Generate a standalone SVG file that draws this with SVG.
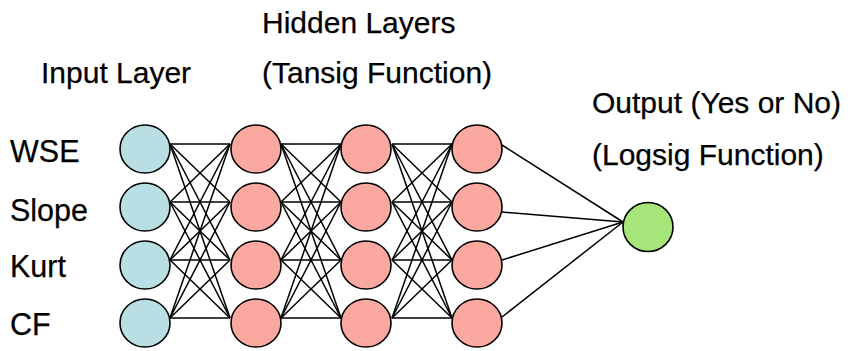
<svg xmlns="http://www.w3.org/2000/svg" width="853" height="351" viewBox="0 0 853 351">
<style>
text{font-family:"Liberation Sans",Arial,sans-serif;font-size:30px;fill:#000;stroke:#000;stroke-width:0.25}
.lb{font-size:30.5px}
.c line{stroke:#000;stroke-width:1.5}
.n{stroke:#000;stroke-width:1.6}
.in{fill:#B9DFE4}
.hd{fill:#FBA9A0}
.out{fill:#A5E57A}
</style>
<rect width="853" height="351" fill="#fff"/>
<g id="labels">
<text x="41" y="83">Input Layer</text>
<text x="262" y="33">Hidden Layers</text>
<text x="262" y="83">(Tansig Function)</text>
<text x="592" y="113">Output (Yes or No)</text>
<text x="592" y="165">(Logsig Function)</text>
<text class="lb" x="10" y="162">WSE</text>
<text class="lb" x="10" y="221">Slope</text>
<text class="lb" x="10" y="277">Kurt</text>
<text class="lb" x="10" y="335">CF</text>
</g>
<g id="connectors" class="c">
<line x1="170" y1="144" x2="230" y2="144"/><line x1="170" y1="144" x2="230" y2="202"/><line x1="170" y1="144" x2="230" y2="260"/><line x1="170" y1="144" x2="230" y2="318"/>
<line x1="170" y1="202" x2="230" y2="144"/><line x1="170" y1="202" x2="230" y2="202"/><line x1="170" y1="202" x2="230" y2="260"/><line x1="170" y1="202" x2="230" y2="318"/>
<line x1="170" y1="260" x2="230" y2="144"/><line x1="170" y1="260" x2="230" y2="202"/><line x1="170" y1="260" x2="230" y2="260"/><line x1="170" y1="260" x2="230" y2="318"/>
<line x1="170" y1="318" x2="230" y2="144"/><line x1="170" y1="318" x2="230" y2="202"/><line x1="170" y1="318" x2="230" y2="260"/><line x1="170" y1="318" x2="230" y2="318"/>
<line x1="281" y1="144" x2="341" y2="144"/><line x1="281" y1="144" x2="341" y2="202"/><line x1="281" y1="144" x2="341" y2="260"/><line x1="281" y1="144" x2="341" y2="318"/>
<line x1="281" y1="202" x2="341" y2="144"/><line x1="281" y1="202" x2="341" y2="202"/><line x1="281" y1="202" x2="341" y2="260"/><line x1="281" y1="202" x2="341" y2="318"/>
<line x1="281" y1="260" x2="341" y2="144"/><line x1="281" y1="260" x2="341" y2="202"/><line x1="281" y1="260" x2="341" y2="260"/><line x1="281" y1="260" x2="341" y2="318"/>
<line x1="281" y1="318" x2="341" y2="144"/><line x1="281" y1="318" x2="341" y2="202"/><line x1="281" y1="318" x2="341" y2="260"/><line x1="281" y1="318" x2="341" y2="318"/>
<line x1="392" y1="144" x2="452" y2="144"/><line x1="392" y1="144" x2="452" y2="202"/><line x1="392" y1="144" x2="452" y2="260"/><line x1="392" y1="144" x2="452" y2="318"/>
<line x1="392" y1="202" x2="452" y2="144"/><line x1="392" y1="202" x2="452" y2="202"/><line x1="392" y1="202" x2="452" y2="260"/><line x1="392" y1="202" x2="452" y2="318"/>
<line x1="392" y1="260" x2="452" y2="144"/><line x1="392" y1="260" x2="452" y2="202"/><line x1="392" y1="260" x2="452" y2="260"/><line x1="392" y1="260" x2="452" y2="318"/>
<line x1="392" y1="318" x2="452" y2="144"/><line x1="392" y1="318" x2="452" y2="202"/><line x1="392" y1="318" x2="452" y2="260"/><line x1="392" y1="318" x2="452" y2="318"/>
<line x1="502" y1="145" x2="623" y2="222"/><line x1="502" y1="212" x2="623" y2="222"/><line x1="502" y1="260" x2="623" y2="222"/><line x1="502" y1="317" x2="623" y2="222"/>
</g>
<g id="input-1"><ellipse class="n in" cx="145" cy="149" rx="25" ry="24"/></g>
<g id="input-2"><ellipse class="n in" cx="145" cy="207" rx="25" ry="24"/></g>
<g id="input-3"><ellipse class="n in" cx="145" cy="265" rx="25" ry="24"/></g>
<g id="input-4"><ellipse class="n in" cx="145" cy="323" rx="25" ry="24"/></g>
<g id="h1-1"><ellipse class="n hd" cx="256" cy="149" rx="25" ry="24"/></g>
<g id="h1-2"><ellipse class="n hd" cx="256" cy="207" rx="25" ry="24"/></g>
<g id="h1-3"><ellipse class="n hd" cx="256" cy="265" rx="25" ry="24"/></g>
<g id="h1-4"><ellipse class="n hd" cx="256" cy="323" rx="25" ry="24"/></g>
<g id="h2-1"><ellipse class="n hd" cx="366" cy="149" rx="25" ry="24"/></g>
<g id="h2-2"><ellipse class="n hd" cx="366" cy="207" rx="25" ry="24"/></g>
<g id="h2-3"><ellipse class="n hd" cx="366" cy="265" rx="25" ry="24"/></g>
<g id="h2-4"><ellipse class="n hd" cx="366" cy="323" rx="25" ry="24"/></g>
<g id="h3-1"><ellipse class="n hd" cx="477" cy="149" rx="25" ry="24"/></g>
<g id="h3-2"><ellipse class="n hd" cx="477" cy="207" rx="25" ry="24"/></g>
<g id="h3-3"><ellipse class="n hd" cx="477" cy="265" rx="25" ry="24"/></g>
<g id="h3-4"><ellipse class="n hd" cx="477" cy="323" rx="25" ry="24"/></g>
<g id="output"><ellipse class="n out" cx="648" cy="227" rx="25" ry="24.5"/></g>
</svg>
